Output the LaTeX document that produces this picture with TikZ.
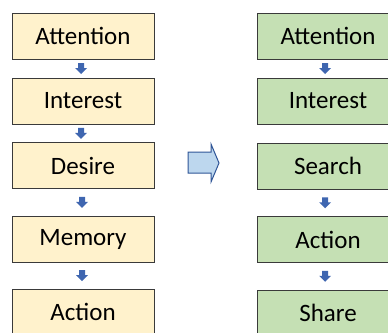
\documentclass[tikz,border=0pt]{standalone}
\usepackage{fontspec}
\setmainfont{Carlito}
\usetikzlibrary{calc,arrows.meta}
\definecolor{yfill}{HTML}{FFF2CC}
\definecolor{gfill}{HTML}{C5E0B4}
\definecolor{bord}{HTML}{3A3A3A}
\definecolor{arr}{HTML}{3F66B0}
\definecolor{bigfill}{HTML}{BDD7EE}
\definecolor{bigbord}{HTML}{2F5597}
\tikzset{
  box/.style={draw=bord, line width=1pt, minimum width=142pt, minimum height=46pt, inner sep=0pt, font=\fontsize{25}{28}\selectfont, text=black},
  ybox/.style={box, fill=yfill},
  gbox/.style={box, fill=gfill},
}
\newcommand\dnarrow[3]{%
  \path let \p1=($(#1.south)!0.5!(#2.north)$) in
    [fill=arr] (\x1+#3-3pt,\y1+5.5pt) -- (\x1+#3+3pt,\y1+5.5pt) -- (\x1+#3+3pt,\y1+0.5pt)
    -- (\x1+#3+6pt,\y1+0.5pt) -- (\x1+#3,\y1-5.5pt) -- (\x1+#3-6pt,\y1+0.5pt)
    -- (\x1+#3-3pt,\y1+0.5pt) -- cycle;}
\begin{document}
\begin{tikzpicture}[x=1pt,y=-1pt]
\useasboundingbox (0,0) rectangle (388,332);
\clip (0,0) rectangle (388,332);
\node[ybox] (l1) at (83,36) {Attention};
\node[ybox] (l2) at (83,101) {Interest};
\node[ybox] (l3) at (83,165.5) {Desire};
\node[ybox] (l4) at (83,239) {Memory};
\node[ybox] (l5) at (83,312) {Action};
\node[gbox] (r1) at (328,36) {Attention};
\node[gbox] (r2) at (328,101) {Interest};
\node[gbox] (r3) at (328,166) {Search};
\node[gbox] (r4) at (328,239.5) {Action};
\node[gbox] (r5) at (328,313) {Share};
\dnarrow{l1}{l2}{-2pt}
\dnarrow{l2}{l3}{-2pt}
\dnarrow{l3}{l4}{-1pt}
\dnarrow{l4}{l5}{-1pt}
\dnarrow{r1}{r2}{-3pt}
\dnarrow{r3}{r4}{-3pt}
\dnarrow{r4}{r5}{-3pt}
\draw[fill=bigfill, draw=bigbord, line width=1pt, line join=miter]
  (188,152) -- (211,152) -- (211,144) -- (219,163) -- (211,182) -- (211,173) -- (188,173) -- cycle;
\end{tikzpicture}
\end{document}
